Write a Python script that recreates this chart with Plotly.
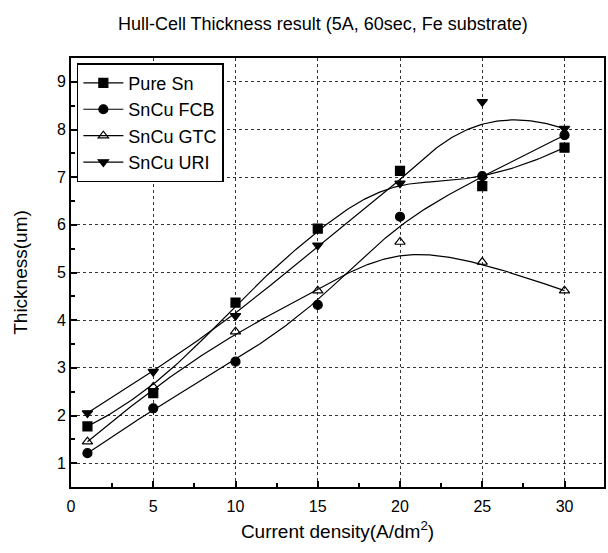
import numpy as np
import plotly.graph_objects as go

current_density = [1, 5, 10, 15, 20, 25, 30]
pure_sn = [1.77, 2.47, 4.37, 5.92, 7.13, 6.81, 7.62]
sncu_fcb = [1.21, 2.15, 3.13, 4.32, 6.17, 7.02, 7.88]
sncu_gtc = [1.45, 2.60, 3.76, 4.62, 5.64, 5.22, 4.62]
sncu_uri = [2.05, 2.92, 4.09, 5.57, 6.87, 8.58, 8.02]

series_names = ["Pure Sn", "SnCu FCB", "SnCu GTC", "SnCu URI"]
series_values = [pure_sn, sncu_fcb, sncu_gtc, sncu_uri]
series_symbols = ["square", "circle", "triangle-up-open", "triangle-down"]

FONT = "Liberation Sans, Arial, sans-serif"


def bspline(xs, ys, n=300, k=3):
    """Clamped uniform cubic B-spline using the data points as control points."""
    P = np.column_stack([xs, ys]).astype(float)
    m = len(P)
    nseg = m - k
    knots = np.concatenate([np.zeros(k), np.arange(0, nseg + 1), np.full(k, nseg)]).astype(float)
    ts = np.linspace(0, nseg, n)
    out = []
    for t in ts:
        if t >= nseg:
            span = m - 1
        else:
            span = np.searchsorted(knots, t, side="right") - 1
        d = [P[j + span - k].copy() for j in range(k + 1)]
        for r in range(1, k + 1):
            for j in range(k, r - 1, -1):
                i = j + span - k
                denom = knots[i + k + 1 - r] - knots[i]
                a = 0.0 if denom == 0 else (t - knots[i]) / denom
                d[j] = (1 - a) * d[j - 1] + a * d[j]
        out.append(d[k])
    out = np.array(out)
    return out[:, 0], out[:, 1]


fig = go.Figure()
for name, vals, sym in zip(series_names, series_values, series_symbols):
    bx, by = bspline(current_density, vals)
    fig.add_trace(go.Scatter(
        x=bx, y=by, mode="lines", line=dict(color="black", width=1.2),
        showlegend=False, hoverinfo="skip"))
    fig.add_trace(go.Scatter(
        x=current_density, y=vals, mode="markers", showlegend=False,
        marker=dict(symbol=sym, size=9, color="black",
                    line=dict(color="black", width=1.2))))
    # legend entry: line + marker
    fig.add_trace(go.Scatter(
        x=[None], y=[None], mode="lines+markers", name=name,
        line=dict(color="black", width=1.2),
        marker=dict(symbol=sym, size=9, color="black",
                    line=dict(color="black", width=1.2))))

axis_common = dict(
    showline=True, linecolor="black", linewidth=2, mirror=True,
    ticks="inside", ticklen=6, tickwidth=1.5, tickcolor="black",
    showgrid=True, gridcolor="#333333", gridwidth=1, griddash="dot",
    zeroline=False,
    tickfont=dict(family=FONT, size=16, color="black"),
)

fig.update_xaxes(
    range=[0, 32.4], dtick=5, tick0=0, ticklabelstandoff=4,
    minor=dict(dtick=2.5, ticks="inside", ticklen=4, tickcolor="black", showgrid=False),
    title=dict(text="Current density(A/dm<sup>2</sup>)",
               font=dict(family=FONT, size=19, color="black"), standoff=10),
    **axis_common)
fig.update_yaxes(
    range=[0.5, 9.5], dtick=1, tick0=0,
    minor=dict(dtick=0.5, ticks="inside", ticklen=4, tickcolor="black", showgrid=False),
    title=dict(text="Thickness(um)",
               font=dict(family=FONT, size=19, color="black"), standoff=24),
    **axis_common)

fig.update_layout(
    width=608, height=553,
    margin=dict(l=71, r=2, t=58, b=66),
    paper_bgcolor="white", plot_bgcolor="white",
    title=dict(text="Hull-Cell Thickness result (5A, 60sec, Fe substrate)",
               x=0.531, xanchor="center", y=0.958, yanchor="middle",
               font=dict(family=FONT, size=18, color="black")),
    legend=dict(x=0.011, y=0.988, xanchor="left", yanchor="top",
                bgcolor="white", bordercolor="black", borderwidth=1.5,
                font=dict(family=FONT, size=18, color="black"),
                itemwidth=40, tracegroupgap=0),
)

fig.write_html("out.html")
